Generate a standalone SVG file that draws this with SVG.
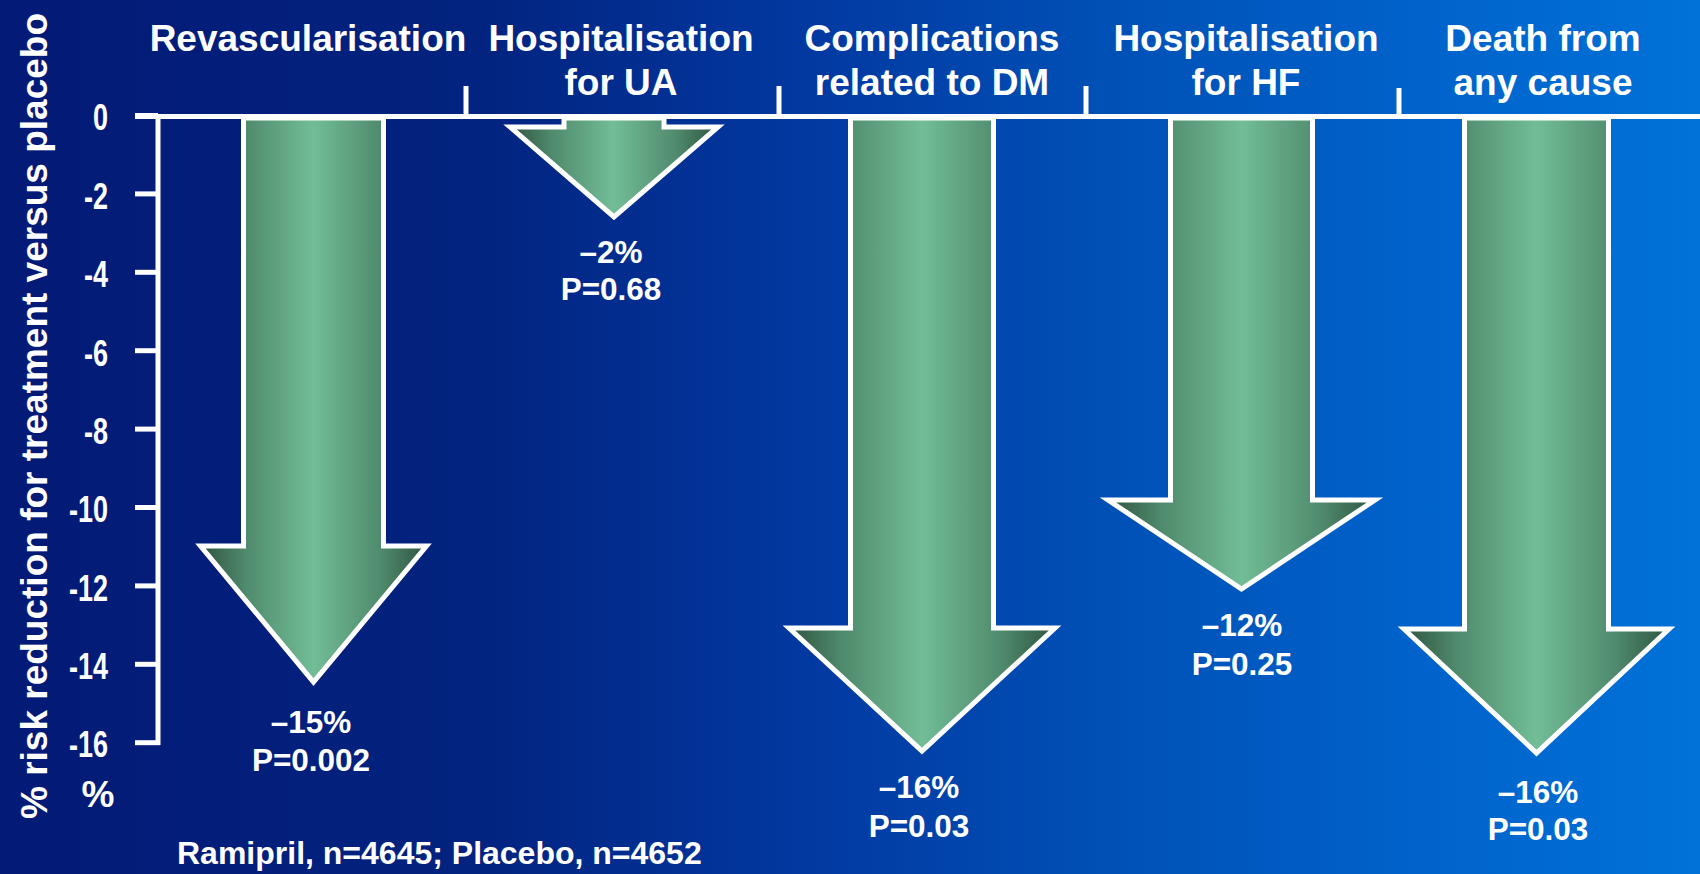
<svg xmlns="http://www.w3.org/2000/svg" width="1700" height="874" viewBox="0 0 1700 874">
  <defs>
    <linearGradient id="bg" x1="0" y1="0" x2="1" y2="0">
      <stop offset="0" stop-color="#031a76"/>
      <stop offset="0.28" stop-color="#02237f"/>
      <stop offset="0.47" stop-color="#0238a0"/>
      <stop offset="0.65" stop-color="#0050b6"/>
      <stop offset="0.85" stop-color="#0064cc"/>
      <stop offset="1" stop-color="#0072d8"/>
    </linearGradient>
    <linearGradient id="arrowFill" x1="0" y1="0" x2="1" y2="0">
      <stop offset="0" stop-color="#2f5440"/>
      <stop offset="0.2" stop-color="#4f8a6c"/>
      <stop offset="0.5" stop-color="#72bd98"/>
      <stop offset="0.8" stop-color="#4f8a6c"/>
      <stop offset="1" stop-color="#2f5440"/>
    </linearGradient>
    <style>
      .axis { stroke: #ffffff; stroke-width: 5; fill: none; }
      .arrow { fill: url(#arrowFill); stroke: #ffffff; stroke-width: 5; stroke-linejoin: miter; stroke-miterlimit: 10; }
      .cat { font-family: "Liberation Sans", Arial, sans-serif; font-weight: bold; font-size: 37px; fill: #ffffff; text-anchor: middle; }
      .val { font-family: "Liberation Sans", Arial, sans-serif; font-weight: bold; font-size: 31.5px; fill: #ffffff; text-anchor: middle; }
      .tick { font-family: "Liberation Sans", Arial, sans-serif; font-weight: bold; font-size: 36px; fill: #ffffff; text-anchor: end; }
      .ytitle { font-family: "Liberation Sans", Arial, sans-serif; font-weight: bold; font-size: 37px; fill: #ffffff; text-anchor: middle; }
      .foot { font-family: "Liberation Sans", Arial, sans-serif; font-weight: bold; font-size: 32px; fill: #ffffff; }
    </style>
  </defs>

  <rect x="0" y="0" width="1700" height="874" fill="url(#bg)"/>

  <!-- Axes -->
  <g id="axes">
    <line class="axis" x1="135" y1="116.5" x2="1700" y2="116.5"/>
    <line class="axis" x1="158" y1="114" x2="158" y2="745"/>
    <line class="axis" x1="135" y1="115.5" x2="158" y2="115.5"/>
    <line class="axis" x1="135" y1="193.9" x2="158" y2="193.9"/>
    <line class="axis" x1="135" y1="272.3" x2="158" y2="272.3"/>
    <line class="axis" x1="135" y1="350.7" x2="158" y2="350.7"/>
    <line class="axis" x1="135" y1="429.1" x2="158" y2="429.1"/>
    <line class="axis" x1="135" y1="507.5" x2="158" y2="507.5"/>
    <line class="axis" x1="135" y1="585.9" x2="158" y2="585.9"/>
    <line class="axis" x1="135" y1="664.3" x2="158" y2="664.3"/>
    <line class="axis" x1="135" y1="742.7" x2="160" y2="742.7"/>
    <line class="axis" x1="466" y1="86" x2="466" y2="116"/>
    <line class="axis" x1="779" y1="86" x2="779" y2="116"/>
    <line class="axis" x1="1086" y1="86" x2="1086" y2="116"/>
    <line class="axis" x1="1399" y1="88" x2="1399" y2="116"/>
  </g>

  <g id="tick-labels">
    <text class="tick" transform="translate(108,130) scale(0.75,1)">0</text>
    <text class="tick" transform="translate(108,209) scale(0.75,1)">-2</text>
    <text class="tick" transform="translate(108,287) scale(0.75,1)">-4</text>
    <text class="tick" transform="translate(108,366) scale(0.75,1)">-6</text>
    <text class="tick" transform="translate(108,444) scale(0.75,1)">-8</text>
    <text class="tick" transform="translate(108,522) scale(0.75,1)">-10</text>
    <text class="tick" transform="translate(108,601) scale(0.75,1)">-12</text>
    <text class="tick" transform="translate(108,679) scale(0.75,1)">-14</text>
    <text class="tick" transform="translate(108,757) scale(0.75,1)">-16</text>
    <text class="ytitle" x="98" y="807">%</text>
  </g>

  <text id="y-title" class="ytitle" transform="translate(47,416) rotate(-90)">% risk reduction for treatment versus placebo</text>

  <!-- Categories -->
  <g id="cat-revasc">
    <text class="cat" x="308" y="51">Revascularisation</text>
  </g>
  <g id="cat-ua">
    <text class="cat" x="621" y="51">Hospitalisation</text>
    <text class="cat" x="621" y="95">for UA</text>
  </g>
  <g id="cat-dm">
    <text class="cat" x="932" y="51">Complications</text>
    <text class="cat" x="932" y="95">related to DM</text>
  </g>
  <g id="cat-hf">
    <text class="cat" x="1246" y="51">Hospitalisation</text>
    <text class="cat" x="1246" y="95">for HF</text>
  </g>
  <g id="cat-death">
    <text class="cat" x="1543" y="51">Death from</text>
    <text class="cat" x="1543" y="95">any cause</text>
  </g>

  <!-- Arrows -->
  <g id="arrow-revasc">
    <polygon class="arrow" points="243.5,118 383.5,118 383.5,546 426.5,546 313.5,682 200.5,546 243.5,546"/>
    <text class="val" x="311" y="733">–15%</text>
    <text class="val" x="311" y="771">P=0.002</text>
  </g>
  <g id="arrow-ua">
    <polygon class="arrow" points="564,118 664,118 664,127 718,127 614,217 510,127 564,127"/>
    <text class="val" x="611" y="263">–2%</text>
    <text class="val" x="611" y="300">P=0.68</text>
  </g>
  <g id="arrow-dm">
    <polygon class="arrow" points="850.5,118 993.5,118 993.5,628 1055,628 922,751 789,628 850.5,628"/>
    <text class="val" x="919" y="798">–16%</text>
    <text class="val" x="919" y="837">P=0.03</text>
  </g>
  <g id="arrow-hf">
    <polygon class="arrow" points="1170.5,118 1312.5,118 1312.5,500 1375,500 1241.5,589 1108,500 1170.5,500"/>
    <text class="val" x="1242" y="636">–12%</text>
    <text class="val" x="1242" y="675">P=0.25</text>
  </g>
  <g id="arrow-death">
    <polygon class="arrow" points="1464.5,118 1608.5,118 1608.5,629 1669,629 1536.5,753 1404,629 1464.5,629"/>
    <text class="val" x="1538" y="803">–16%</text>
    <text class="val" x="1538" y="840">P=0.03</text>
  </g>

  <text id="footer" class="foot" x="177" y="864">Ramipril, n=4645; Placebo, n=4652</text>
</svg>
